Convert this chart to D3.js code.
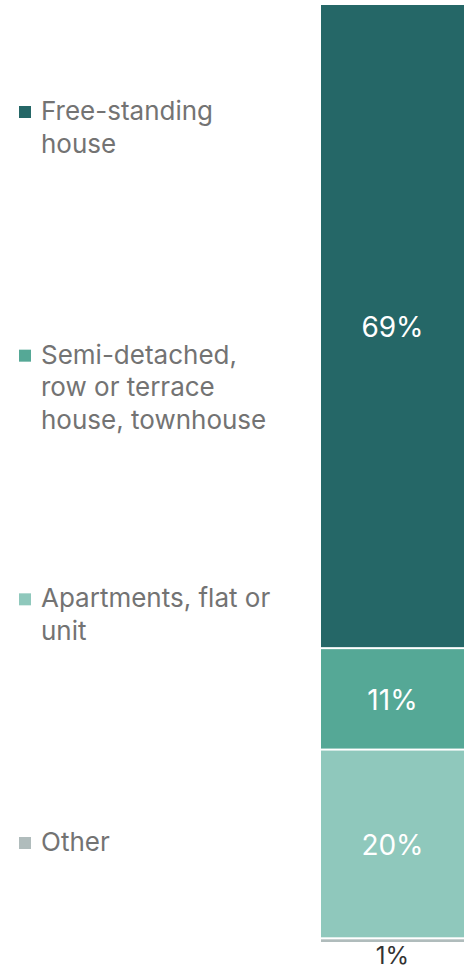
<!DOCTYPE html>
<html>
<head>
<meta charset="utf-8">
<script src="https://cdn.jsdelivr.net/npm/d3@7"></script>
<style>
  body { margin: 0; background: #fff; }
  text { font-family: Inter, "Noto Sans", sans-serif; }
</style>
</head>
<body>
<div id="chart"></div>
<script>
// chart size
const width = 464;
const height = 970;

// data
const categories = ["Free-standing house", "Semi-detached, row or terrace house, townhouse", "Apartments, flat or unit", "Other"];
const legendLines = [["Free-standing", "house"], ["Semi-detached,", "row or terrace", "house, townhouse"], ["Apartments, flat or", "unit"], ["Other"]];
const values = [68.6, 10.8, 20.1, 0.5];
const valueLabels = ["69%", "11%", "20%", "1%"];
const colors = ["#256767", "#55a896", "#8fc8bc", "#b0bcbc"];

// stack the single bar
let acc = 0;
const segments = values.map((v, i) => {
  const s = { key: categories[i], y0: acc, y1: acc + v, label: valueLabels[i], color: colors[i] };
  acc += v;
  return s;
});

const y = d3.scaleLinear().domain([0, acc]).range([5, 944]);
const x = d3.scaleBand().domain(["all"]).range([321, 464]);

const svg = d3.select("#chart")
  .append("svg").attr("width", width).attr("height", height);

// bar segments, 2px white gap between them
svg.selectAll("rect.seg")
  .data(segments)
  .enter().append("rect")
  .attr("class", "seg")
  .attr("x", x("all"))
  .attr("width", x.bandwidth())
  .attr("y", d => y(d.y0))
  .attr("height", d => Math.max(0, y(d.y1) - y(d.y0) - 2))
  .attr("fill", d => d.color);

// value labels - inside for big ones, below bar for tiny one
const inside = d => y(d.y1) - y(d.y0) > 30;

svg.selectAll("text.val")
  .data(segments)
  .enter().append("text")
  .attr("class", "val")
  .attr("x", x("all") + x.bandwidth() / 2)
  .attr("y", d => inside(d) ? (y(d.y0) + y(d.y1)) / 2 : y(d.y1) + 20)
  .attr("dy", d => inside(d) ? "0.36em" : 0)
  .attr("text-anchor", "middle")
  .attr("font-size", d => inside(d) ? 28 : 24)
  .attr("fill", d => inside(d) ? "#ffffff" : "#333333")
  .text(d => d.label);

// legend
const ly = d3.scalePoint().domain(categories).range([120, 851]);

const legend = svg.selectAll("g.legend")
  .data(categories)
  .enter().append("g")
  .attr("class", "legend")
  .attr("transform", d => `translate(0,${ly(d)})`);

legend.append("rect")
  .attr("x", 19)
  .attr("y", -14)
  .attr("width", 12)
  .attr("height", 12)
  .attr("fill", (d, i) => colors[i]);

legend.each(function (d, i) {
  const t = d3.select(this).append("text")
    .attr("x", 41)
    .attr("y", 0)
    .attr("font-size", 26)
    .attr("fill", "#737373");
  legendLines[i].forEach((line, j) => {
    t.append("tspan").attr("x", 41).attr("y", j * 32.5).text(line);
  });
});
</script>
</body>
</html>
